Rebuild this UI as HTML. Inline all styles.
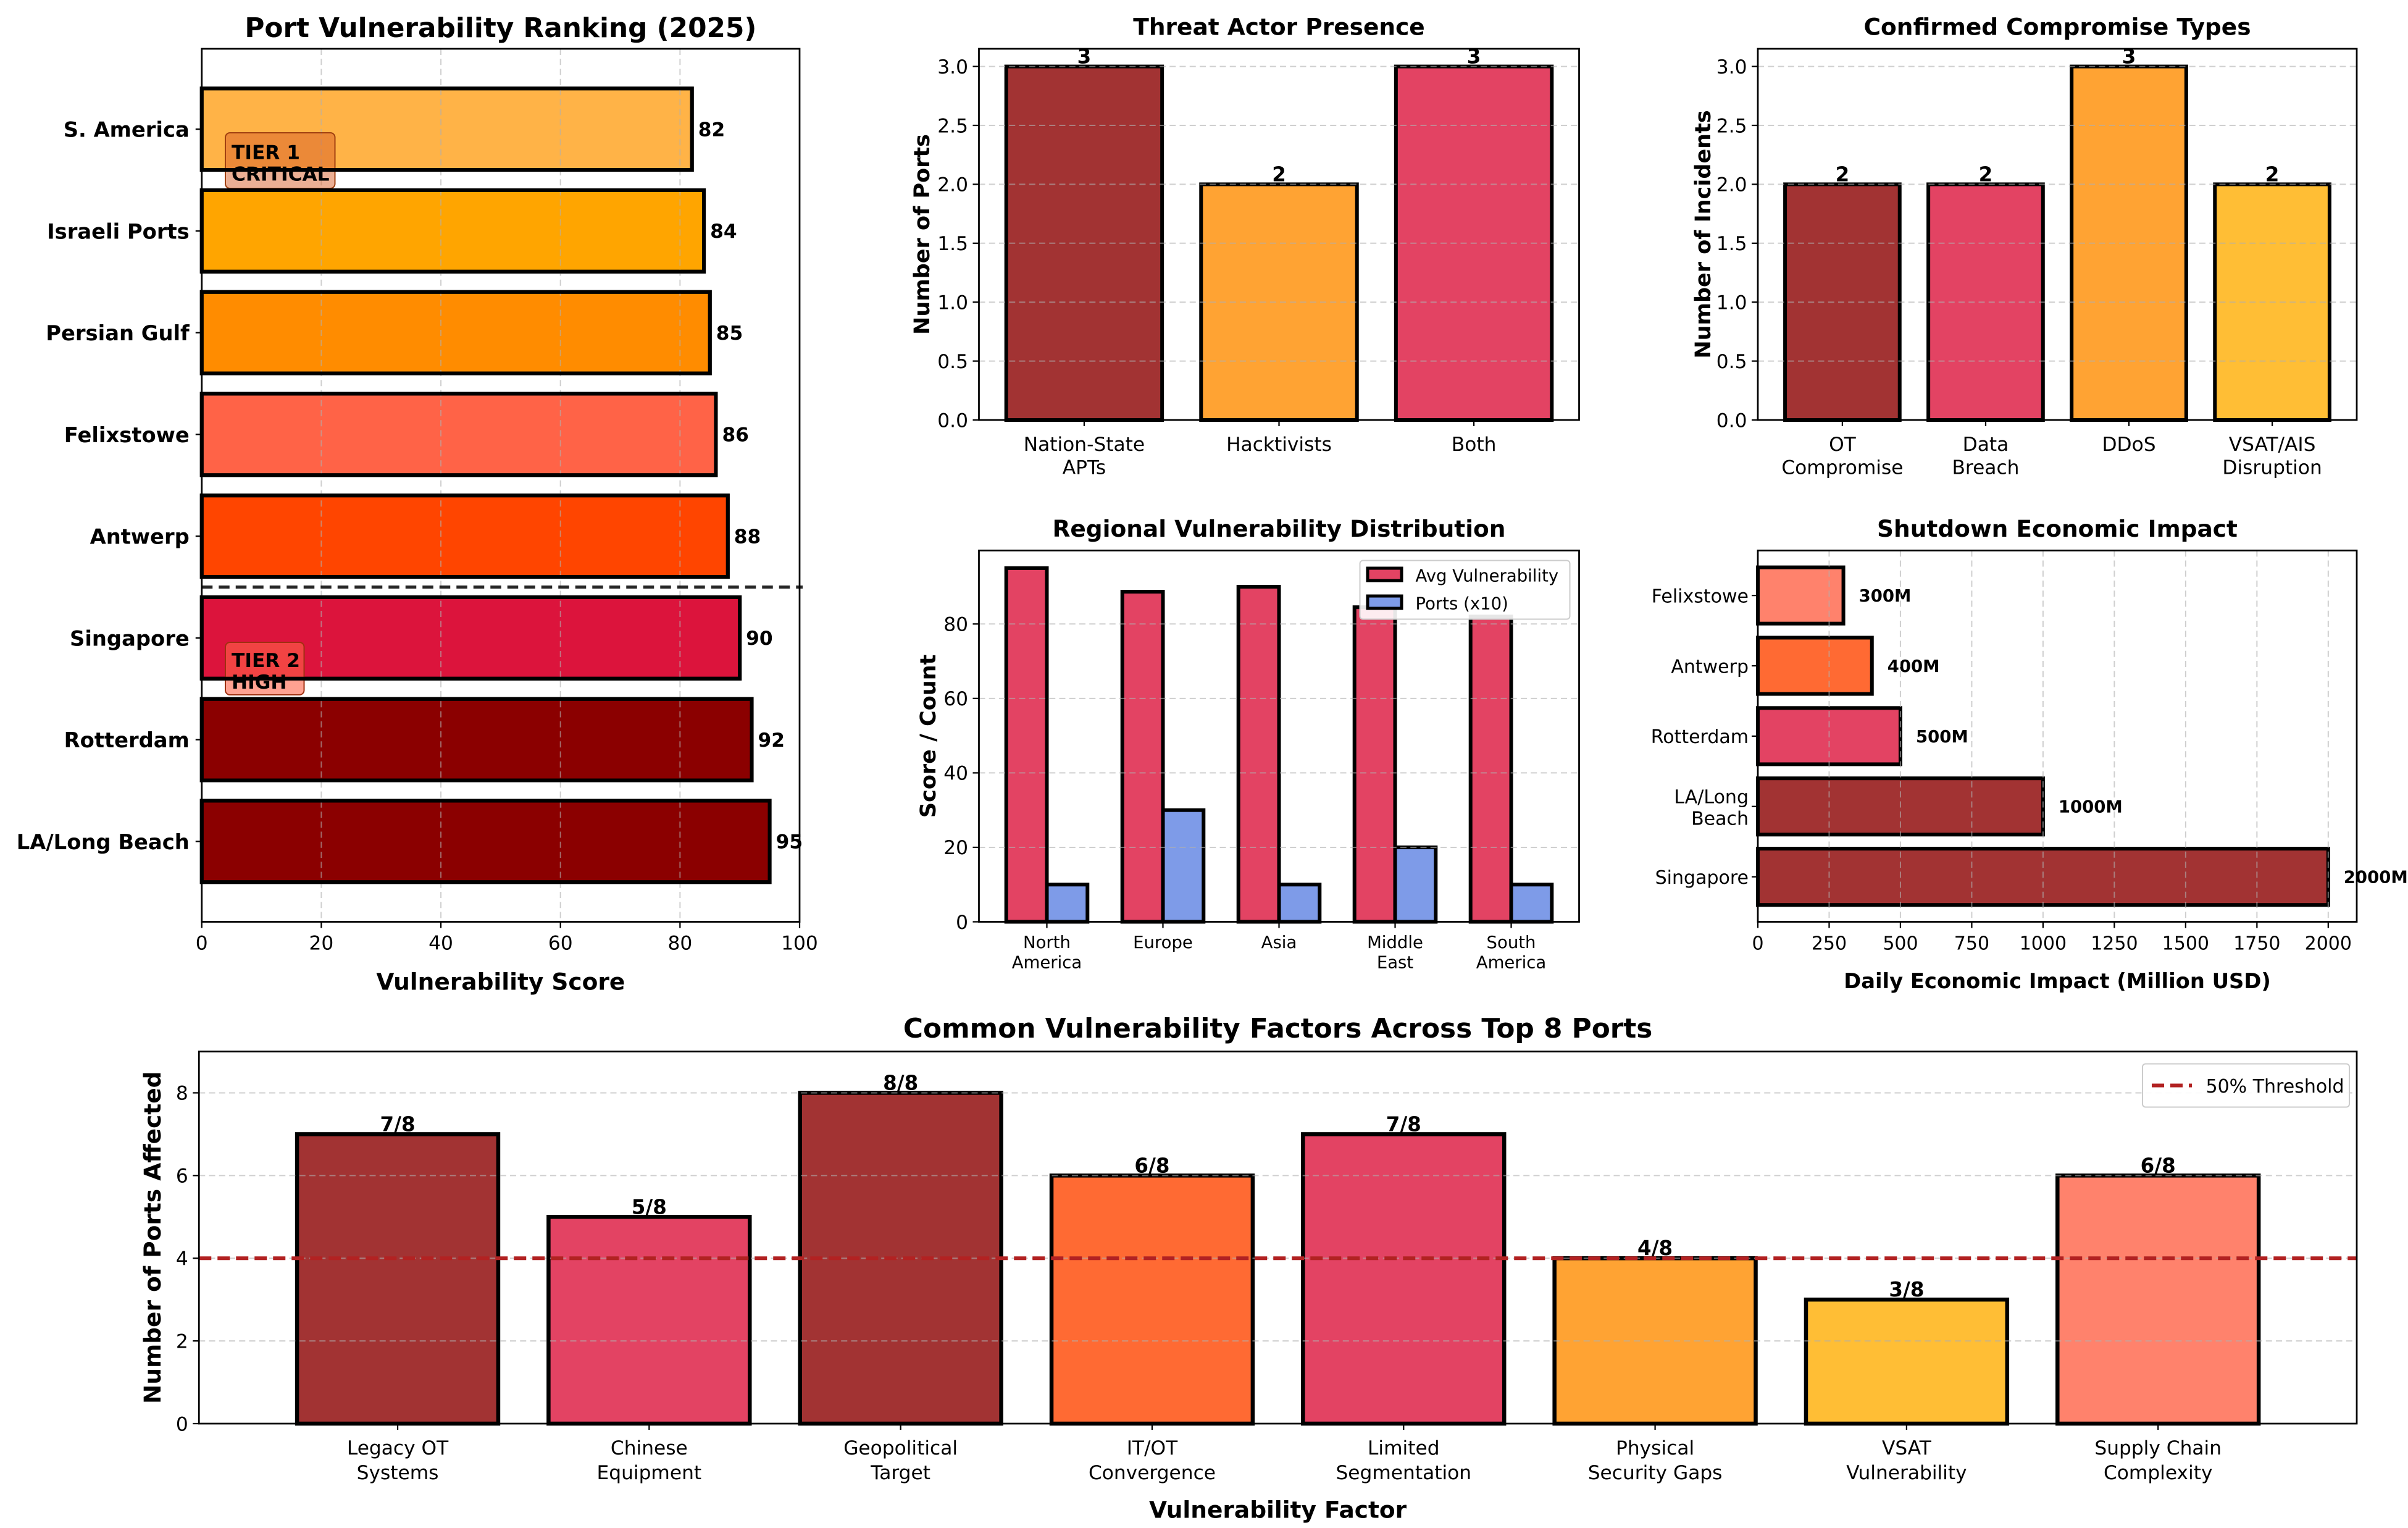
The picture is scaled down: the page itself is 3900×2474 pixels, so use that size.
<!DOCTYPE html>
<html><head><meta charset="utf-8"><style>
html,body{margin:0;padding:0;background:#fff;}
svg{display:block;font-family:"DejaVu Sans","Liberation Sans",sans-serif;}
</style></head><body>
<svg id="chart" width="3900" height="2474" viewBox="0 0 1560 989.6" xmlns="http://www.w3.org/2000/svg"></svg>
<script>
// ---- data ----
const portNames = ["S. America","Israeli Ports","Persian Gulf","Felixstowe","Antwerp","Singapore","Rotterdam","LA/Long Beach"];
const portScores = [82,84,85,86,88,90,92,95];
const actorCats = ["Nation-State|APTs","Hacktivists","Both"];
const actorVals = [3,2,3];
const compCats = ["OT|Compromise","Data|Breach","DDoS","VSAT/AIS|Disruption"];
const compVals = [2,2,3,2];
const regionCats = ["North|America","Europe","Asia","Middle|East","South|America"];
const regionAvg = [95,88.67,90,84.5,82];
const regionPorts = [10,30,10,20,10];
const shutNames = ["Felixstowe","Antwerp","Rotterdam","LA/Long|Beach","Singapore"];
const shutVals = [300,400,500,1000,2000];
const factorCats = ["Legacy OT|Systems","Chinese|Equipment","Geopolitical|Target","IT/OT|Convergence","Limited|Segmentation","Physical|Security Gaps","VSAT|Vulnerability","Supply Chain|Complexity"];
const factorVals = [7,5,8,6,7,4,3,6];
const factorTotal = 8;
const threshold = 4;
const leftTicks = [0,20,40,60,80,100];
const countTicks = [0,0.5,1,1.5,2,2.5,3];
const regionTicks = [0,20,40,60,80];
const shutTicks = [0,250,500,750,1000,1250,1500,1750,2000];
const factorTicks = [0,2,4,6,8];

// ---- styles ----
const portColors = ["#FFB347","#FFA500","#FF8C00","#FF6347","#FF4500","#DC143C","#8B0000","#8B0000"];
const actorColors = ["#A23333","#FFA333","#E34363"];
const compColors = ["#A23333","#E34363","#FFA333","#FFBE35"];
const shutColors = ["#FF826C","#FF6A33","#E34363","#A23333","#A23333"];
const factorColors = ["#A23333","#E34363","#A23333","#FF6A33","#E34363","#FFA333","#FFBE35","#FF826C"];

const svg = document.getElementById('chart');
const NS = "http://www.w3.org/2000/svg";
function el(tag, attrs, parent){
  const e = document.createElementNS(NS, tag);
  for (const k in attrs) e.setAttribute(k, attrs[k]);
  (parent||svg).appendChild(e);
  return e;
}
function lin(d0,d1,r0,r1){ return v => r0 + (v-d0)/(d1-d0)*(r1-r0); }
function txt(str, x, y, size, opts){
  opts = opts||{};
  const t = el('text', {x:x, y:y, 'font-size':size, fill:'#000', 'text-anchor':opts.anchor||'start', 'font-weight':opts.bold?'bold':'normal'}, opts.parent);
  if (opts.rotate) t.setAttribute('transform', `rotate(${opts.rotate} ${x} ${y})`);
  t.textContent = str;
  return t;
}
function multiline(str, x, y, size, lh, opts){
  const parts = str.split('|');
  const g = el('g', {});
  parts.forEach((p,i)=>{ txt(p, x, y + i*lh, size, Object.assign({}, opts, {parent:g})); });
  return g;
}
function frame(x0,y0,x1,y1){
  const r = el('rect',{x:x0,y:y0,width:x1-x0,height:y1-y0,fill:'none',stroke:'#000','stroke-width':1.1});
  
  
}
function hgrid(y, x0, x1){
  const l = el('line',{x1:x0,x2:x1,y1:y,y2:y,stroke:'#b0b0b0','stroke-width':0.8,'stroke-dasharray':'4,2.5',opacity:0.6});
  
  
}
function vgrid(x, y0, y1){
  const l = el('line',{x1:x,x2:x,y1:y0,y2:y1,stroke:'#b0b0b0','stroke-width':0.8,'stroke-dasharray':'4,2.5',opacity:0.6});
  
  
}
function tick(x1,y1,x2,y2){ el('line',{x1:x1,y1:y1,x2:x2,y2:y2,stroke:'#000','stroke-width':0.9}); }

// ========== Panel A: Port ranking ==========
(function(){
  const L=130.7,R=518,T=31.6,B=597;
  const x = lin(0,100,L,R);
  const y = lin(-0.79,7.79,T,B);
  const h = 0.8*(y(1)-y(0));
  txt("Port Vulnerability Ranking (2025)", (L+R)/2, 24, 17.5, {anchor:'middle',bold:true});
  portScores.forEach((v,i)=>{
    const r = el('rect',{x:x(0),y:y(i)-h/2,width:x(v)-x(0),height:h,fill:portColors[i],stroke:'#000','stroke-width':2.4});
    
    
  });
  leftTicks.forEach(t=>{ if(t>0&&t<100) vgrid(x(t),T,B); });
  const b1 = el('rect',{x:146,y:86,width:71,height:36,rx:3,fill:'#D8602A','fill-opacity':0.5,stroke:'#A04010','stroke-width':0.8});
  
  
  txt("TIER 1",150,103,12.5,{bold:true});
  txt("CRITICAL",150,117,12.5,{bold:true});
  const b2 = el('rect',{x:146,y:416,width:51,height:34,rx:3,fill:'#FF6347','fill-opacity':0.6,stroke:'#A03010','stroke-width':0.8});
  
  
  txt("TIER 2",150,432,12.5,{bold:true});
  txt("HIGH",150,446,12.5,{bold:true});
  portScores.forEach((v,i)=>{
    el('rect',{x:x(0),y:y(i)-h/2,width:x(v)-x(0),height:h,fill:'none',stroke:'#000','stroke-width':2.4});
    const lab = txt(String(v), x(v)+4, y(i)+4.5, 12.5, {bold:true});
    
    const tl = txt(portNames[i], L-8, y(i)+5, 13.5, {anchor:'end',bold:true});
    
    tick(L-4,y(i),L,y(i));
  });
  const dl = el('line',{x1:L,x2:R+2,y1:y(4.5),y2:y(4.5),stroke:'#000','stroke-width':2,'stroke-dasharray':'7,4',opacity:0.85});
  
  
  frame(L,T,R,B);
  leftTicks.forEach(t=>{ tick(x(t),B,x(t),B+4); txt(String(t), x(t), B+18, 12.5, {anchor:'middle'}); });
  txt("Vulnerability Score",(L+R)/2,641,15,{anchor:'middle',bold:true});
})();

function vbarPanel(cfg){
  const {L,R,T,B,cats,vals,colors,ymax,ticks,tickFmt,title,ylabel,ylabelX,name} = cfg;
  const n = cats.length;
  const span = (n-1)+0.8, m = 0.05*span;
  const x = lin(-0.4-m, n-1+0.4+m, L, R);
  const y = lin(0, ymax, B, T);
  const w = x(0.8)-x(0);
  txt(title,(L+R)/2,T-9,15,{anchor:'middle',bold:true});
  vals.forEach((v,i)=>{
    const r = el('rect',{x:x(i)-w/2,y:y(v),width:w,height:y(0)-y(v),fill:colors[i],stroke:'#000','stroke-width':2.4});
    
    
    const lab = txt(String(v), x(i), y(v)-2, 13, {anchor:'middle',bold:true});
    
  });
  ticks.forEach(t=>{ if(t>0) hgrid(y(t),L,R); tick(L-4,y(t),L,y(t)); txt(tickFmt(t), L-7, y(t)+4.5, 12.5, {anchor:'end'}); });
  cats.forEach((c,i)=>{ tick(x(i),B,x(i),B+4); multiline(c, x(i), B+20, 12.5, 15, {anchor:'middle'}); });
  frame(L,T,R,B);
  txt(ylabel, ylabelX, (T+B)/2, 14, {anchor:'middle',bold:true,rotate:-90});
}

vbarPanel({L:634.2,R:1023,T:31.6,B:272,cats:actorCats,vals:actorVals,colors:actorColors,ymax:3.15,ticks:countTicks,tickFmt:t=>t.toFixed(1),title:"Threat Actor Presence",ylabel:"Number of Ports",ylabelX:602,name:'threat-actor'});
vbarPanel({L:1138.8,R:1526.8,T:31.6,B:272,cats:compCats,vals:compVals,colors:compColors,ymax:3.15,ticks:countTicks,tickFmt:t=>t.toFixed(1),title:"Confirmed Compromise Types",ylabel:"Number of Incidents",ylabelX:1108,name:'compromise'});

// ========== Panel D: Regional ==========
(function(){
  const L=634.2,R=1023,T=356.5,B=597;
  const n = regionCats.length, bw=0.35;
  const x = lin(-0.585, n-1+0.585, L, R);
  const y = lin(0, 99.75, B, T);
  const w = x(bw)-x(0);
  txt("Regional Vulnerability Distribution",(L+R)/2,T-9,15,{anchor:'middle',bold:true});
  regionAvg.forEach((v,i)=>{
    const r = el('rect',{x:x(i)-w,y:y(v),width:w,height:y(0)-y(v),fill:'#E34363',stroke:'#000','stroke-width':2.4});
    
    
  });
  regionPorts.forEach((v,i)=>{
    const r = el('rect',{x:x(i),y:y(v),width:w,height:y(0)-y(v),fill:'#7E9BE8',stroke:'#000','stroke-width':2.4});
    
    
  });
  regionTicks.forEach(t=>{ if(t>0) hgrid(y(t),L,R); tick(L-4,y(t),L,y(t)); txt(String(t), L-7, y(t)+4.5, 12.5, {anchor:'end'}); });
  regionCats.forEach((c,i)=>{ tick(x(i),B,x(i),B+4); multiline(c, x(i), B+17, 11, 13, {anchor:'middle'}); });
  frame(L,T,R,B);
  txt("Score / Count", 606, (T+B)/2, 14, {anchor:'middle',bold:true,rotate:-90});
  const lg = el('g',{});
  
  
  el('rect',{x:881,y:363,width:136,height:38,rx:2,fill:'#fff','fill-opacity':0.9,stroke:'#ccc','stroke-width':0.8},lg);
  el('rect',{x:886,y:368,width:22,height:8,fill:'#E34363',stroke:'#000','stroke-width':2},lg);
  el('rect',{x:886,y:386,width:22,height:8,fill:'#7E9BE8',stroke:'#000','stroke-width':2},lg);
  txt("Avg Vulnerability",917,376.5,11,{parent:lg});
  txt("Ports (x10)",917,394.5,11,{parent:lg});
})();

// ========== Panel E: Shutdown ==========
(function(){
  const L=1138.8,R=1526.8,T=356.5,B=597;
  const n = shutNames.length;
  const x = lin(0,2100,L,R);
  const y = lin(-0.64, n-1+0.64, T, B);
  const h = 0.8*(y(1)-y(0));
  txt("Shutdown Economic Impact",(L+R)/2,T-9,15,{anchor:'middle',bold:true});
  shutVals.forEach((v,i)=>{
    const r = el('rect',{x:x(0),y:y(i)-h/2,width:x(v)-x(0),height:h,fill:shutColors[i],stroke:'#000','stroke-width':2.4});
    
    
    const lab = txt(v+"M", x(v)+10, y(i)+4, 11, {bold:true});
    
    tick(L-4,y(i),L,y(i));
    const parts = shutNames[i].split('|');
    if (parts.length===1) txt(parts[0], L-6, y(i)+4.5, 12, {anchor:'end'});
    else multiline(shutNames[i], L-6, y(i)-2, 12, 14, {anchor:'end'});
  });
  shutTicks.forEach(t=>{ if(t>0) vgrid(x(t),T,B); tick(x(t),B,x(t),B+4); txt(String(t), x(t), B+18, 12, {anchor:'middle'}); });
  frame(L,T,R,B);
  txt("Daily Economic Impact (Million USD)",(L+R)/2,640,13.5,{anchor:'middle',bold:true});
})();

// ========== Panel F: Factors ==========
(function(){
  const L=128.9,R=1526.8,T=681,B=922;
  const n = factorCats.length;
  const span=(n-1)+0.8, m=0.05*span;
  const x = lin(-0.4-m, n-1+0.4+m, L, R);
  const y = lin(0, 9, B, T);
  const w = x(0.8)-x(0);
  txt("Common Vulnerability Factors Across Top 8 Ports",(L+R)/2,T-9,17.5,{anchor:'middle',bold:true});
  factorVals.forEach((v,i)=>{
    const r = el('rect',{x:x(i)-w/2,y:y(v),width:w,height:y(0)-y(v),fill:factorColors[i],stroke:'#000','stroke-width':2.6});
    
    
    const lab = txt(v+"/"+factorTotal, x(i), y(v)-2, 13, {anchor:'middle',bold:true});
    
  });
  factorTicks.forEach(t=>{ if(t>0) hgrid(y(t),L,R); tick(L-4,y(t),L,y(t)); txt(String(t), L-7, y(t)+4.5, 12.5, {anchor:'end'}); });
  const th = el('line',{x1:L,x2:R,y1:y(threshold),y2:y(threshold),stroke:'#B22222','stroke-width':2.4,'stroke-dasharray':'8,4'});
  
  
  factorCats.forEach((c,i)=>{ tick(x(i),B,x(i),B+4); multiline(c, x(i), B+20, 12.5, 16, {anchor:'middle'}); });
  frame(L,T,R,B);
  txt("Number of Ports Affected", 104, (T+B)/2, 15, {anchor:'middle',bold:true,rotate:-90});
  txt("Vulnerability Factor",(L+R)/2,983,15,{anchor:'middle',bold:true});
  const lg = el('g',{});
  
  
  el('rect',{x:1388,y:689,width:134,height:28,rx:2,fill:'#fff','fill-opacity':0.9,stroke:'#ccc','stroke-width':0.8},lg);
  el('line',{x1:1394,x2:1420,y1:703,y2:703,stroke:'#B22222','stroke-width':2.4,'stroke-dasharray':'8,4'},lg);
  txt("50% Threshold",1429,707.5,12,{parent:lg});
})();
</script>
</body></html>
